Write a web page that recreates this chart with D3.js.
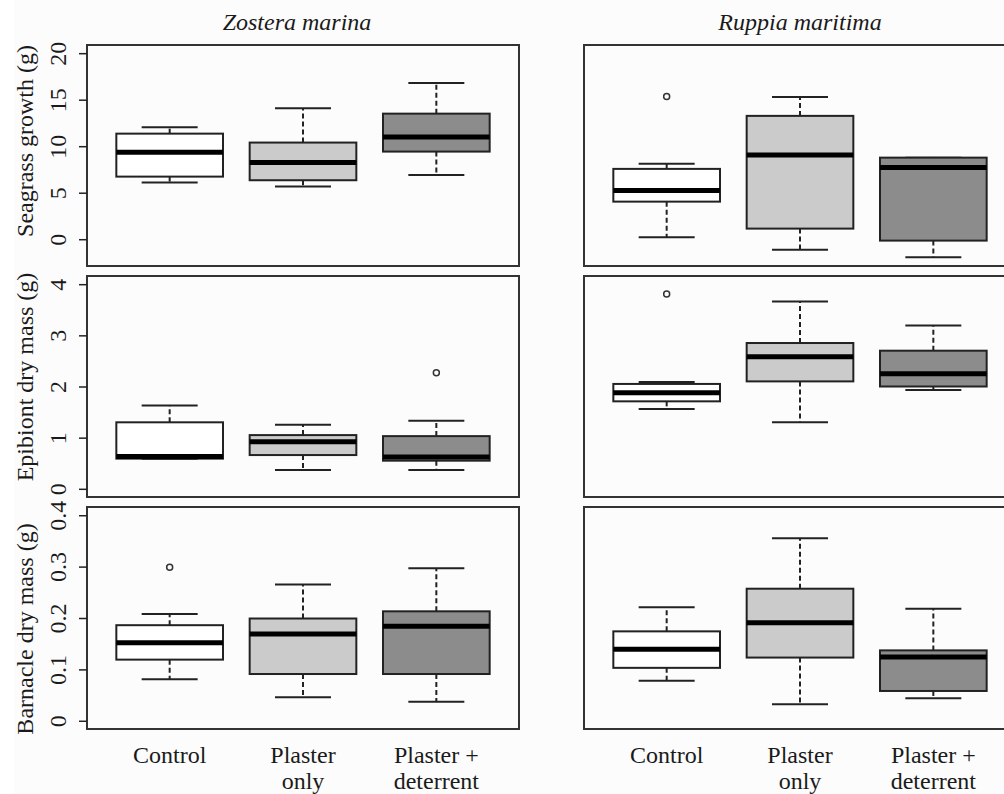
<!DOCTYPE html>
<html>
<head>
<meta charset="utf-8">
<script src="https://cdn.jsdelivr.net/npm/d3@7"></script>
<style>
  body { margin: 0; background: #fff; }
  svg { display: block; }
  text { font-family: "Liberation Serif", "DejaVu Serif", serif; fill: #1a1a1a; }
</style>
</head>
<body>
<div id="chart"></div>
<script>
const treatments = ["Control", "Plaster\nonly", "Plaster +\ndeterrent"];
const fills = ["#ffffff", "#cbcbcb", "#8c8c8c"];
const species = ["Zostera marina", "Ruppia maritima"];
const rowLabels = ["Seagrass growth (g)", "Epibiont dry mass (g)", "Barnacle dry mass (g)"];

// each box: [lower whisker, Q1, median, Q3, upper whisker]
const seagrassZostera = [[6.1, 6.73, 9.35, 11.35, 12.05], [5.66, 6.34, 8.24, 10.39, 14.09], [6.91, 9.42, 11.0, 13.5, 16.8]];
const seagrassRuppia = [[0.21, 4.04, 5.23, 7.56, 8.1], [-1.12, 1.14, 9.06, 13.26, 15.3], [-1.94, -0.15, 7.7, 8.77, 8.77]];
const epibiontZostera = [[0.59, 0.59, 0.63, 1.30, 1.63], [0.37, 0.66, 0.92, 1.05, 1.25], [0.37, 0.55, 0.62, 1.03, 1.33]];
const epibiontRuppia = [[1.56, 1.71, 1.88, 2.05, 2.09], [1.30, 2.10, 2.58, 2.85, 3.66], [1.93, 2.00, 2.25, 2.70, 3.19]];
const barnacleZostera = [[0.081, 0.119, 0.152, 0.186, 0.208], [0.046, 0.091, 0.169, 0.199, 0.265], [0.037, 0.091, 0.184, 0.213, 0.297]];
const barnacleRuppia = [[0.078, 0.103, 0.139, 0.174, 0.221], [0.032, 0.123, 0.191, 0.257, 0.355], [0.044, 0.058, 0.124, 0.137, 0.218]];

// outliers: [treatment index, value]
const outSeagrassZostera = [];
const outSeagrassRuppia = [[0, 15.33]];
const outEpibiontZostera = [[2, 2.27]];
const outEpibiontRuppia = [[0, 3.81]];
const outBarnacleZostera = [[0, 0.299]];
const outBarnacleRuppia = [];

const yTicksSeagrass = [0, 5, 10, 15, 20];
const yTicksEpibiont = [0, 1, 2, 3, 4];
const yTicksBarnacle = [0, 0.1, 0.2, 0.3, 0.4];

const width = 1004, height = 794;
const svg = d3.select("#chart").append("svg")
  .attr("width", width).attr("height", height);

svg.append("rect").attr("x", 14).attr("y", 0).attr("width", width - 14).attr("height", height)
  .attr("fill", "#fcfcfc");

const colRanges = [[87, 519], [584, 1016]];
const rowRanges = [[45, 266], [276, 497], [507, 729]];
const labelCenters = [141, 377, 629];
const yDomains = [[-2.88, 20.88], [-0.16, 4.16], [-0.016, 0.416]];
const yTicks = [yTicksSeagrass, yTicksEpibiont, yTicksBarnacle];
const boxes = [[seagrassZostera, seagrassRuppia], [epibiontZostera, epibiontRuppia], [barnacleZostera, barnacleRuppia]];
const outliers = [[outSeagrassZostera, outSeagrassRuppia], [outEpibiontZostera, outEpibiontRuppia], [outBarnacleZostera, outBarnacleRuppia]];

const ink = "#222";
const fs = 24;

function drawPanel(row, col) {
  let x = d3.scaleLinear().domain([0.38, 3.62]).range(colRanges[col]);
  let y = d3.scaleLinear().domain(yDomains[row]).range([rowRanges[row][1], rowRanges[row][0]]);
  let g = svg.append("g");
  let boxW = x(1.4) - x(1), capW = x(1.21) - x(1);

  boxes[row][col].forEach(function(b, i) {
    let cx = x(i + 1);
    // whiskers
    g.append("line").attr("x1", cx).attr("x2", cx).attr("y1", y(b[3])).attr("y2", y(b[4]))
      .attr("stroke", ink).attr("stroke-width", 2).attr("stroke-dasharray", "5,3");
    g.append("line").attr("x1", cx).attr("x2", cx).attr("y1", y(b[1])).attr("y2", y(b[0]))
      .attr("stroke", ink).attr("stroke-width", 2).attr("stroke-dasharray", "5,3");
    g.append("line").attr("x1", cx - capW).attr("x2", cx + capW).attr("y1", y(b[4])).attr("y2", y(b[4]))
      .attr("stroke", ink).attr("stroke-width", 2);
    g.append("line").attr("x1", cx - capW).attr("x2", cx + capW).attr("y1", y(b[0])).attr("y2", y(b[0]))
      .attr("stroke", ink).attr("stroke-width", 2);
    // box
    g.append("rect").attr("x", cx - boxW).attr("width", 2 * boxW)
      .attr("y", y(b[3])).attr("height", y(b[1]) - y(b[3]))
      .attr("fill", fills[i]).attr("stroke", ink).attr("stroke-width", 2);
    // median
    g.append("line").attr("x1", cx - boxW).attr("x2", cx + boxW).attr("y1", y(b[2])).attr("y2", y(b[2]))
      .attr("stroke", "#000").attr("stroke-width", 5);
  });

  outliers[row][col].forEach(function(o) {
    g.append("circle").attr("cx", x(o[0] + 1)).attr("cy", y(o[1])).attr("r", 3)
      .attr("fill", "none").attr("stroke", "#333").attr("stroke-width", 1.5);
  });

  // frame
  g.append("rect").attr("x", colRanges[col][0]).attr("y", rowRanges[row][0])
    .attr("width", colRanges[col][1] - colRanges[col][0])
    .attr("height", rowRanges[row][1] - rowRanges[row][0])
    .attr("fill", "none").attr("stroke", "#333").attr("stroke-width", 2);

  if (col === 0) {
    let axis = d3.axisLeft(y).tickValues(yTicks[row]).tickSize(8)
      .tickFormat(d3.format("~g"));
    let ax = svg.append("g").attr("transform", "translate(" + colRanges[0][0] + ",0)").call(axis);
    ax.select(".domain").remove();
    ax.selectAll(".tick line").attr("stroke", ink).attr("stroke-width", 1.5);
    ax.selectAll(".tick text")
      .attr("font-size", fs).attr("font-family", "Liberation Serif").attr("fill", "#1a1a1a")
      .attr("text-anchor", "middle")
      .attr("transform", "translate(-21,0) rotate(-90)").attr("x", 0).attr("y", 0)
      .attr("dy", "0");
    svg.append("text")
      .attr("transform", "translate(33," + labelCenters[row] + ") rotate(-90)")
      .attr("text-anchor", "middle").attr("font-size", fs)
      .text(rowLabels[row]);
  }

  if (row === 2) {
    treatments.forEach(function(t, i) {
      let lines = t.split("\n");
      let txt = svg.append("text").attr("x", x(i + 1)).attr("y", 763)
        .attr("text-anchor", "middle").attr("font-size", fs);
      lines.forEach(function(l, k) {
        txt.append("tspan").attr("x", x(i + 1)).attr("dy", k === 0 ? 0 : 26).text(l);
      });
    });
  }
  if (row === 0) {
    svg.append("text").attr("x", col === 0 ? 297 : 800).attr("y", 30)
      .attr("text-anchor", "middle").attr("font-size", fs).attr("font-style", "italic")
      .text(species[col]);
  }
}

for (let r = 0; r < 3; r++) for (let c = 0; c < 2; c++) drawPanel(r, c);
</script>
</body>
</html>
